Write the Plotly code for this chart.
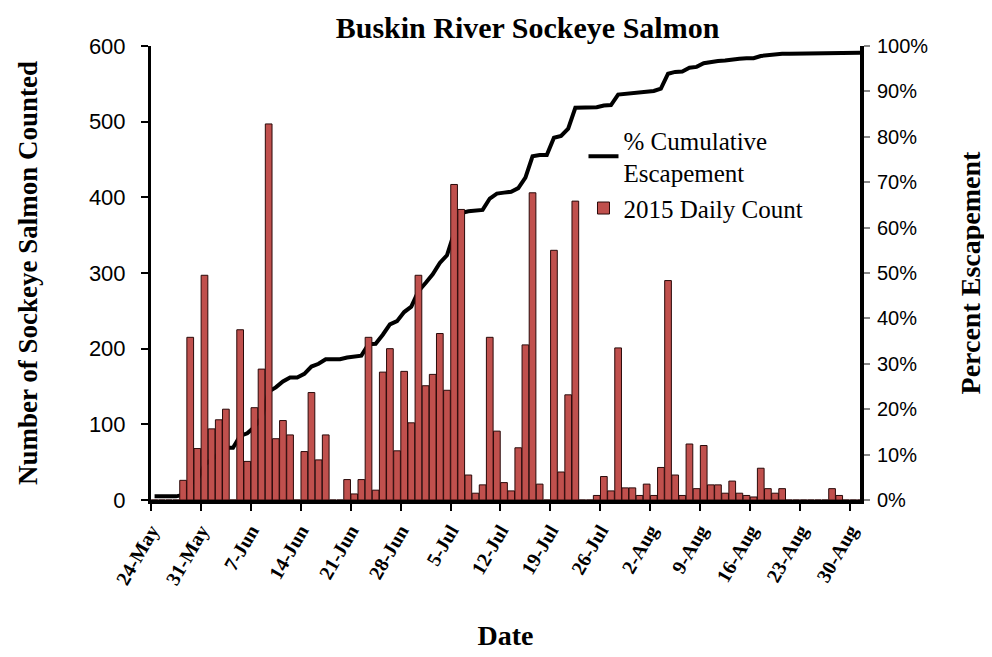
import pandas as pd
import plotly.graph_objects as go

# ---- data ----
dates = pd.date_range("2015-05-24", "2015-08-31", freq="D")

daily_count = [
    0, 0, 0, 0, 26, 215, 68, 297,            # 24-31 May
    94, 106, 120, 0, 225, 51, 122, 173, 497, 81,  # 1-10 Jun
    105, 86, 0, 64, 142, 53, 86, 0, 0, 27,       # 11-20 Jun
    8, 27, 215, 13, 169, 200, 65, 170, 102, 297, # 21-30 Jun
    151, 166, 220, 145, 417, 384, 33, 9, 20, 215,  # 1-10 Jul
    91, 23, 12, 69, 205, 406, 21, 0, 330, 37,      # 11-20 Jul
    139, 395, 0, 0, 6, 31, 12, 201, 16, 16, 6,     # 21-31 Jul
    21, 6, 43, 290, 33, 6, 74, 15, 72, 20,         # 1-10 Aug
    20, 9, 25, 9, 6, 4, 42, 15, 9, 15,             # 11-20 Aug
    0, 0, 0, 0, 0, 0, 15, 6, 0, 0, 0,              # 21-31 Aug
]

cum_pct = [
    0.8, 0.8, 0.8, 0.8, 1.1, 3.6, 4.4, 7.8,
    8.9, 10.1, 11.5, 11.5, 14.1, 14.7, 16.1, 18.1, 23.9, 24.8,
    26.1, 27.0, 27.0, 27.8, 29.4, 30.0, 31.0, 31.0, 31.0, 31.4,
    31.5, 31.8, 34.3, 34.4, 36.4, 38.7, 39.4, 41.4, 42.6, 46.0,
    47.8, 49.7, 52.2, 53.9, 58.8, 63.2, 63.6, 63.7, 63.9, 66.4,
    67.5, 67.7, 67.9, 68.7, 71.0, 75.7, 76.0, 76.0, 79.8, 80.2,
    81.8, 86.4, 86.4, 86.4, 86.5, 86.9, 87.0, 89.3, 89.5, 89.7, 89.8,
    90.0, 90.1, 90.6, 93.9, 94.3, 94.4, 95.2, 95.4, 96.2, 96.5,
    96.7, 96.8, 97.1, 97.2, 97.3, 97.3, 97.8, 98.0, 98.1, 98.3,
    98.3, 98.3, 98.3, 98.3, 98.3, 98.3, 98.4, 98.5, 98.5, 98.5, 98.5,
]

left_ticks = [0, 100, 200, 300, 400, 500, 600]
right_ticks = [0, 10, 20, 30, 40, 50, 60, 70, 80, 90, 100]

SERIF = "Liberation Serif"
SANS = "Liberation Sans"
DAY_MS = 86400000

fig = go.Figure()

fig.add_trace(go.Scatter(
    x=dates, y=cum_pct, yaxis="y", mode="lines",
    name="% Cumulative<br>Escapement",
    line=dict(color="black", width=4),
    xperiod=DAY_MS, xperiodalignment="middle",
))

fig.add_trace(go.Bar(
    x=dates, y=daily_count, yaxis="y2",
    name="2015 Daily Count",
    marker=dict(color="#C0504D", line=dict(color="#2a0a0a", width=1)),
    xperiod=DAY_MS, xperiodalignment="middle",
))

# page body has an 8px default margin, so the figure is 8px smaller
fig.update_layout(
    width=984, height=649,
    margin=dict(l=143, r=132, t=38, b=157),
    paper_bgcolor="white", plot_bgcolor="white",
    bargap=0.06,
    showlegend=True,
    title=dict(text="<b>Buskin River Sockeye Salmon</b>", x=0.528, xanchor="center",
               y=0.97, yanchor="middle",
               font=dict(family=SERIF, size=30, color="black")),
    legend=dict(x=0.61, y=0.843, xanchor="left", yanchor="top",
                bgcolor="rgba(0,0,0,0)", traceorder="normal",
                font=dict(family=SERIF, size=25, color="black"),
                itemwidth=30, tracegroupgap=20),
    xaxis=dict(
        type="date", automargin=False,
        range=["2015-05-24", "2015-08-31 10:00"],
        tick0="2015-05-24", dtick=7 * DAY_MS, tickformat="%-d-%b",
        tickangle=-60, ticks="outside", ticklen=7, tickwidth=2, tickcolor="black",
        showline=True, linecolor="black", linewidth=4,
        showgrid=False, zeroline=False,
        tickfont=dict(family=SERIF, size=20, color="black", weight="bold"),
        title=dict(text="<b>Date</b>", font=dict(family=SERIF, size=28, color="black"),
                   standoff=38),
    ),
    yaxis=dict(
        side="right", range=[0, 100], tickvals=right_ticks, automargin=False,
        ticktext=[f"{v}%" for v in right_ticks],
        ticks="outside", ticklen=6, tickwidth=2, tickcolor="#888888",
        showline=True, linecolor="black", linewidth=4,
        showgrid=False, zeroline=False, ticklabelstandoff=3,
        tickfont=dict(family=SANS, size=20, color="black"),
        title=dict(text="<b>Percent Escapement</b>",
                   font=dict(family=SERIF, size=28, color="black"), standoff=34),
    ),
    yaxis2=dict(
        side="left", overlaying="y", range=[0, 600], tickvals=left_ticks, automargin=False,
        ticks="outside", ticklen=7, tickwidth=2, tickcolor="black",
        showline=True, linecolor="black", linewidth=3,
        showgrid=False, zeroline=False, ticklabelstandoff=11,
        tickfont=dict(family=SANS, size=22, color="black"),
        title=dict(text="<b>Number of Sockeye Salmon Counted</b>",
                   font=dict(family=SERIF, size=27, color="black"), standoff=44),
    ),
)

fig.write_html("out.html")
